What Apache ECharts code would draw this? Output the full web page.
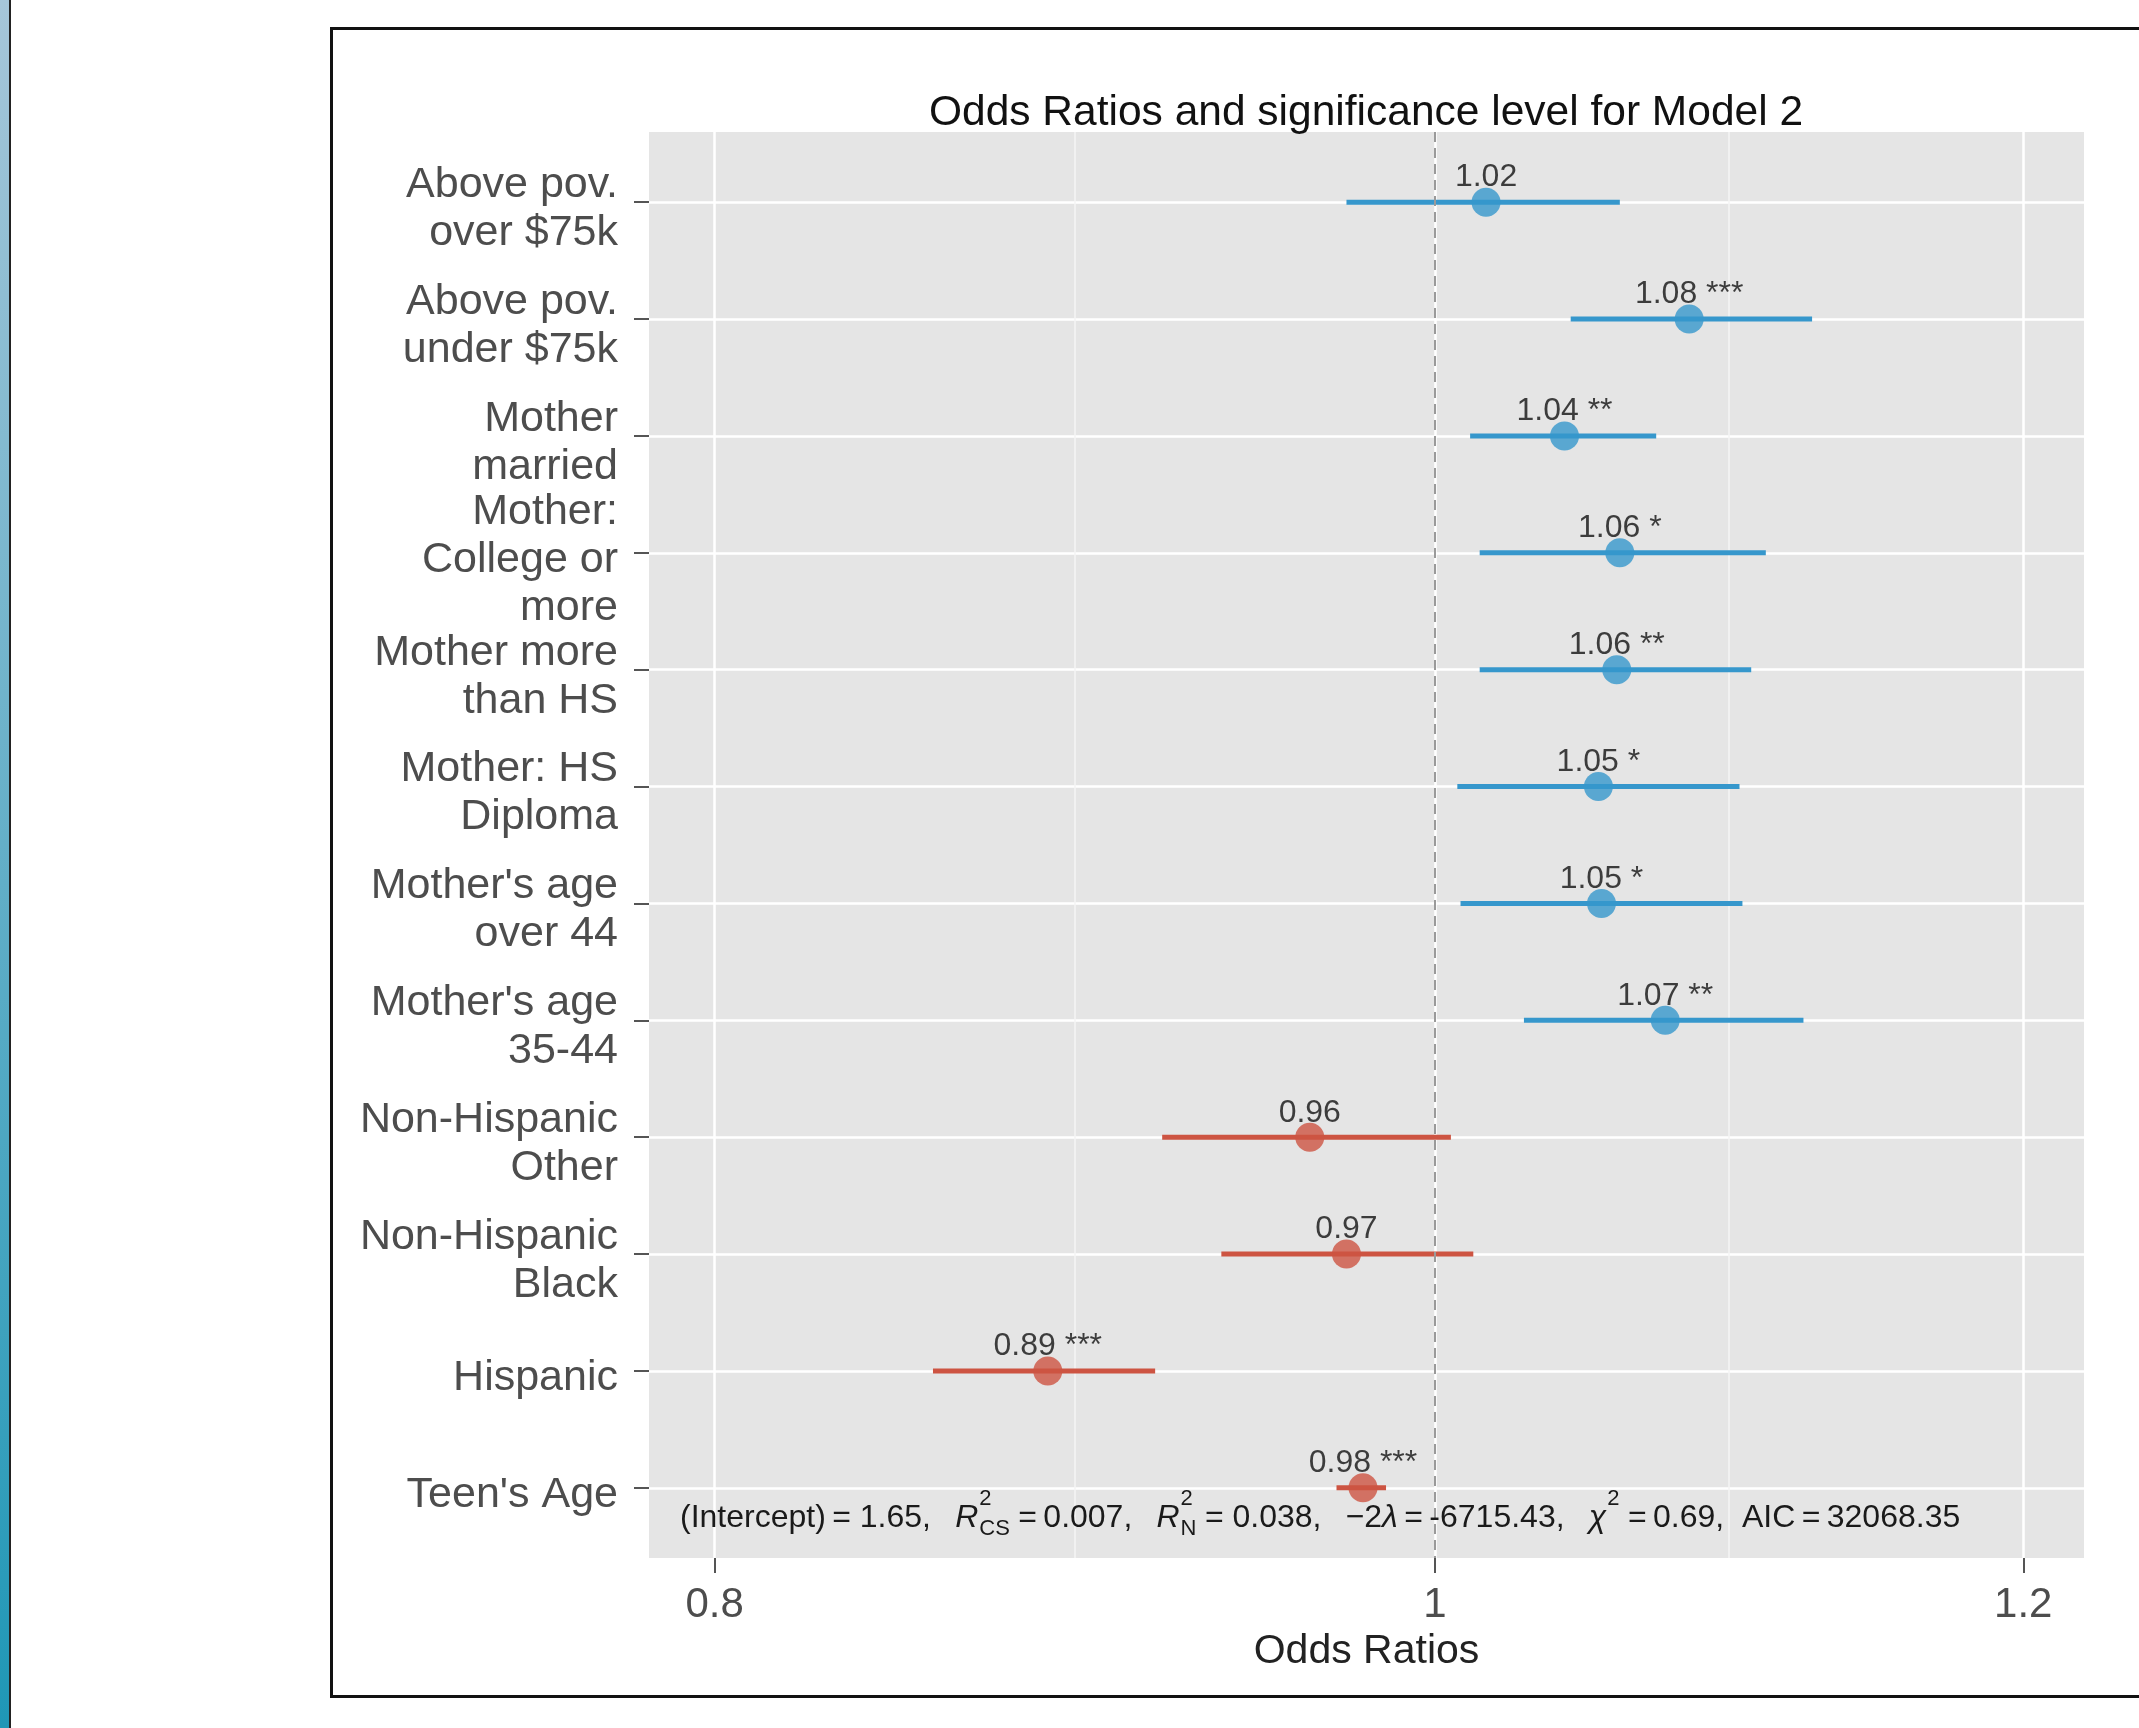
<!DOCTYPE html>
<html>
<head>
<meta charset="utf-8">
<script src="https://cdn.jsdelivr.net/npm/echarts@6.0.0/dist/echarts.min.js"></script>
<style>
  html, body { margin: 0; padding: 0; background: #fff; }
  #main { width: 2139px; height: 1728px; }
</style>
</head>
<body>
<div id="main"></div>
<script>
// predictors, top to bottom (wrapped like the original tick labels)
const categories = [
  'Above pov.\nover $75k',
  'Above pov.\nunder $75k',
  'Mother\nmarried',
  'Mother:\nCollege or\nmore',
  'Mother more\nthan HS',
  'Mother: HS\nDiploma',
  "Mother's age\nover 44",
  "Mother's age\n35-44",
  'Non-Hispanic\nOther',
  'Non-Hispanic\nBlack',
  'Hispanic',
  "Teen's Age"
];
const oddsRatios = [1.016, 1.082, 1.041, 1.059, 1.058, 1.052, 1.053, 1.074, 0.962, 0.973, 0.887, 0.978];
const ciLow      = [0.973, 1.043, 1.011, 1.014, 1.014, 1.007, 1.008, 1.028, 0.919, 0.936, 0.856, 0.970];
const ciHigh     = [1.059, 1.124, 1.071, 1.108, 1.103, 1.099, 1.100, 1.121, 1.005, 1.012, 0.917, 0.985];
const stars      = ['', '***', '**', '*', '**', '*', '*', '**', '', '', '***', '***'];

const xTicks = [0.8, 1, 1.2];
const xTickLabels = ['0.8', '1', '1.2'];
const xLimits = [0.7839, 1.2228];

const modelStats = { intercept: '1.65', r2cs: '0.007', r2n: '0.038', ll: '-6715.43', chi2: '0.69', aic: '32068.35' };

const blue = '#3697cc';
const red = '#cd5442';
const FONT = '"Liberation Sans", Arial, sans-serif';

// log scale: work in ln(OR)
const ln = Math.log;
const majorTicks = xTicks.map(ln);
const minorTicks = [];
for (let i = 0; i < majorTicks.length - 1; i++) minorTicks.push((majorTicks[i] + majorTicks[i + 1]) / 2);
const rowIdx = categories.map((c, i) => i + 1);

const ciData = categories.map((c, i) => [ln(ciLow[i]), ln(ciHigh[i]), i + 1, oddsRatios[i]]);
const pointData = categories.map((c, i) => ({
  value: [ln(oddsRatios[i]), i + 1],
  itemStyle: { color: oddsRatios[i] >= 1 ? blue : red },
  label: { formatter: oddsRatios[i].toFixed(2) + (stars[i] ? ' ' + stars[i] : '') }
}));

// model summary line built from pieces (R^2 with stacked sub/superscripts)
const annoSize = 32, smallSize = 22;
const sep = ',  \u2009';
const annoPieces = [
  { t: '(Intercept)\u2009= ' + modelStats.intercept + sep },
  { t: 'R', it: true }, { sup: '2', sub: 'CS' },
  { t: '\u2009=\u2009' + modelStats.r2cs + sep },
  { t: 'R', it: true }, { sup: '2', sub: 'N' },
  { t: '\u2009= ' + modelStats.r2n + sep },
  { t: '\u22122' }, { t: '\u03bb', it: true },
  { t: '\u2009=\u2009' + modelStats.ll + sep },
  { t: '\u03c7', it: true }, { sup: '2', sub: '' },
  { t: '\u2009=\u2009' + modelStats.chi2 + ',  AIC\u2009=\u2009' + modelStats.aic }
];
const ctx = document.createElement('canvas').getContext('2d');
function measure(text, size, italic) {
  ctx.font = (italic ? 'italic ' : '') + size + 'px ' + FONT;
  return ctx.measureText(text).width;
}
function txt(text, x, y, size, italic) {
  return {
    type: 'text', x: x, y: y, z: 100,
    style: { text: text, fontSize: size, fontFamily: FONT, fontStyle: italic ? 'italic' : 'normal',
             fill: '#1a1a1a', align: 'left', verticalAlign: 'middle' }
  };
}
const annoEls = [];
let ax = 680;
const amid = 1518;
annoPieces.forEach(p => {
  if (p.sup !== undefined) {
    annoEls.push(txt(p.sup, ax + 1, amid - 19, smallSize));
    if (p.sub) annoEls.push(txt(p.sub, ax + 1, amid + 11, smallSize));
    ax += Math.max(measure(p.sup, smallSize), measure(p.sub, smallSize)) + 3;
  } else {
    annoEls.push(txt(p.t, ax, amid, annoSize, p.it));
    ax += measure(p.t, annoSize, p.it);
  }
});

const chart = echarts.init(document.getElementById('main'));
const option = {
  backgroundColor: '#ffffff',
  animation: false,
  title: {
    text: 'Odds Ratios and significance level for Model 2',
    left: 1366, top: 92, textAlign: 'center', padding: 0,
    textStyle: { fontSize: 42.5, fontWeight: 'normal', color: '#111', fontFamily: FONT }
  },
  graphic: [
    { type: 'rect', left: 0, top: 0, z: 0, shape: { width: 9, height: 1728 },
      style: { fill: { type: 'linear', x: 0, y: 0, x2: 0, y2: 1,
        colorStops: [{ offset: 0, color: '#a6c6d9' }, { offset: 1, color: '#1f97b6' }] } } },
    { type: 'rect', left: 9, top: 0, z: 0, shape: { width: 2, height: 1728 }, style: { fill: '#222' } },
    { type: 'rect', x: 331.5, y: 28.5, z: 0, shape: { width: 1900, height: 1668 },
      style: { fill: 'none', stroke: '#111', lineWidth: 3 } }
  ].concat(annoEls),
  grid: {
    left: 649, top: 132, width: 1435, height: 1426,
    show: true, backgroundColor: '#e5e5e5', borderWidth: 0
  },
  xAxis: [{
    type: 'value',
    min: ln(xLimits[0]), max: ln(xLimits[1]),
    position: 'bottom',
    name: 'Odds Ratios', nameLocation: 'middle', nameGap: 70,
    nameTextStyle: { fontSize: 41, color: '#222', fontFamily: FONT },
    axisLine: { show: false, onZero: false },
    axisTick: { show: true, length: 15, customValues: majorTicks, lineStyle: { color: '#555', width: 2 } },
    axisLabel: {
      customValues: majorTicks, margin: 26, fontSize: 42, color: '#4d4d4d', fontFamily: FONT,
      formatter: v => {
        let best = 0;
        majorTicks.forEach((t, i) => { if (Math.abs(t - v) < Math.abs(majorTicks[best] - v)) best = i; });
        return xTickLabels[best];
      }
    },
    splitLine: { show: true, lineStyle: { color: '#ffffff', width: 2.5 } }
  }, {
    // minor grid lines only
    type: 'value',
    min: ln(xLimits[0]), max: ln(xLimits[1]),
    position: 'bottom',
    axisLine: { show: false, onZero: false },
    axisTick: { show: false, customValues: minorTicks },
    axisLabel: { show: false, customValues: minorTicks },
    splitLine: { show: true, lineStyle: { color: '#f4f4f4', width: 1.5 } }
  }],
  yAxis: {
    type: 'value', inverse: true, min: 0.4, max: 12.6,
    position: 'left',
    axisLine: { show: false, onZero: false },
    axisTick: { show: true, length: 15, customValues: rowIdx, lineStyle: { color: '#555', width: 2 } },
    axisLabel: {
      customValues: rowIdx, margin: 31, fontSize: 43, lineHeight: 48, color: '#4d4d4d',
      fontFamily: FONT, align: 'right',
      // small blank first line nudges the block slightly below the tick, as in the original
      formatter: v => '{s| }\n' + categories[Math.round(v) - 1],
      rich: { s: { fontSize: 2, lineHeight: 14 } }
    },
    splitLine: { show: true, lineStyle: { color: '#ffffff', width: 2.5 } }
  },
  series: [
    {
      type: 'line', data: [], z: 2, silent: true,
      markLine: {
        silent: true, symbol: ['none', 'none'], label: { show: false },
        lineStyle: { type: [10, 6], color: '#9a9a9a', width: 2 },
        data: [{ xAxis: ln(1) }]
      }
    },
    {
      type: 'custom', z: 3,
      encode: { x: [0, 1], y: 2 },
      renderItem: (params, api) => {
        const a = api.coord([api.value(0), api.value(2)]);
        const b = api.coord([api.value(1), api.value(2)]);
        return {
          type: 'line',
          shape: { x1: a[0], y1: a[1], x2: b[0], y2: b[1] },
          style: { stroke: api.value(3) >= 1 ? blue : red, lineWidth: 5 }
        };
      },
      data: ciData
    },
    {
      type: 'scatter', z: 4,
      symbol: 'circle', symbolSize: 29,
      label: { show: true, position: 'top', distance: -6, fontSize: 32, color: '#111', fontFamily: FONT },
      data: pointData
    }
  ]
};
chart.setOption(option);
</script>
</body>
</html>
